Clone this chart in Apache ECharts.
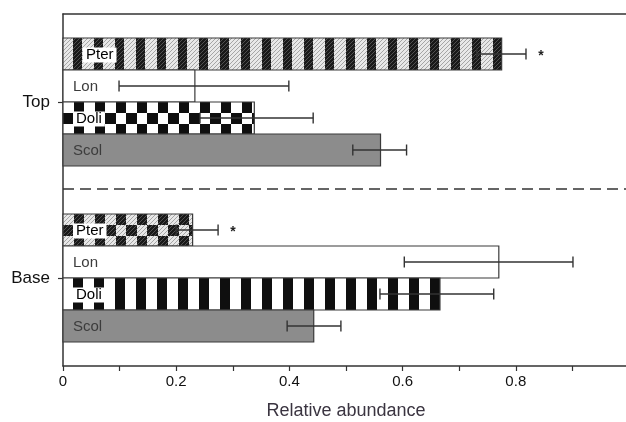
<!DOCTYPE html>
<html>
<head>
<meta charset="utf-8">
<script src="https://cdn.jsdelivr.net/npm/echarts@6/dist/echarts.min.js"></script>
<style>
  html, body { margin: 0; padding: 0; background: #fff; }
  #chart { width: 626px; height: 422px; }
</style>
</head>
<body>
<div id="chart"></div>
<script>
// species inside each group, listed from the top of the group down
var species = ['Pter', 'Lon', 'Doli', 'Scol'];
var groups = ['Top', 'Base'];
var topMean = [0.775, 0.233, 0.338, 0.561];
var topLow = [0.731, 0.099, 0.242, 0.512];
var topHigh = [0.818, 0.399, 0.442, 0.607];
var baseMean = [0.229, 0.770, 0.666, 0.443];
var baseLow = [0.200, 0.603, 0.560, 0.396];
var baseHigh = [0.274, 0.901, 0.761, 0.491];
var topSig = [true, false, false, false];
var baseSig = [true, false, false, false];
var xTickLabels = ['0', '0.2', '0.4', '0.6', '0.8'];

var FONT = '"Liberation Sans", Arial, sans-serif';

// row layout on the hidden value axis (one unit = one bar)
function rowY(g, i) {
  return (g === 0 ? 9.75 : 4.25) - i;
}

// ---- fill patterns ----
function tile(w, h, fn) {
  var c = document.createElement('canvas');
  c.width = w; c.height = h;
  var ctx = c.getContext('2d');
  var img = ctx.createImageData(w, h);
  for (var y = 0; y < h; y++) {
    for (var x = 0; x < w; x++) {
      var v = fn(x, y), k = (y * w + x) * 4;
      img.data[k] = img.data[k + 1] = img.data[k + 2] = v;
      img.data[k + 3] = 255;
    }
  }
  ctx.putImageData(img, 0, 0);
  return c;
}
function hatch(x, y, dark) {
  var line = (x + y) % 4 === 0;
  return dark ? (line ? 80 : 25) : (line ? 165 : 232);
}
function stripeDark(x) { var m = x % 21; return m >= 10 && m < 19; }
function checkDark(x, y) {
  var col = Math.floor(x / 10.5), row = Math.floor(y / (32 / 3));
  return (col + row) % 2 === 1;
}
var tiles = {
  hatchStripes: tile(84, 64, function (x, y) { return hatch(x, y, stripeDark(x)); }),
  checker: tile(84, 64, function (x, y) { return checkDark(x, y) ? 15 : 255; }),
  hatchChecker: tile(84, 64, function (x, y) { return hatch(x, y, checkDark(x, y)); }),
  stripes: tile(84, 64, function (x, y) { var m = x % 21; return (m >= 10 && m < 20) ? 15 : 255; })
};
var fillNames = [
  ['hatchStripes', '#fff', 'checker', '#8c8c8c'],
  ['hatchChecker', '#fff', 'stripes', '#8c8c8c']
];
function fillFor(g, i, x0, y0) {
  var f = fillNames[g][i];
  if (f.charAt(0) === '#') return f;
  return { image: tiles[f], repeat: 'repeat', x: x0, y: y0 };
}

// ---- data rows ----
var barData = [];
groups.forEach(function (name, g) {
  var mean = g === 0 ? topMean : baseMean;
  var low = g === 0 ? topLow : baseLow;
  var high = g === 0 ? topHigh : baseHigh;
  var sig = g === 0 ? topSig : baseSig;
  species.forEach(function (s, i) {
    barData.push([mean[i], rowY(g, i), low[i], high[i], g, i, sig[i] ? 1 : 0]);
  });
});

function renderBar(params, api) {
  var g = api.value(4), i = api.value(5), y = api.value(1);
  var p0 = api.coord([0, y]);
  var p1 = api.coord([api.value(0), y]);
  var h = api.size([0, 1])[1];
  var top = p0[1] - h / 2;
  var boxed = species[i] === 'Pter' || species[i] === 'Doli';
  return {
    type: 'group',
    children: [
      {
        type: 'rect',
        shape: { x: p0[0], y: top, width: p1[0] - p0[0], height: h },
        style: { fill: fillFor(g, i, p0[0], top), stroke: '#3a3a3a', lineWidth: 1.2 }
      },
      {
        type: 'text',
        x: p0[0] + (g === 0 && i === 0 ? 20 : 10),
        y: p0[1] + 1,
        style: {
          text: species[i],
          font: '15px ' + FONT,
          fill: boxed ? '#000' : '#3c3c3c',
          verticalAlign: 'middle',
          backgroundColor: boxed ? '#fff' : null,
          padding: boxed ? [0, 3, 0, 3] : 0
        }
      }
    ]
  };
}

function renderErr(params, api) {
  var y = api.value(1);
  var a = api.coord([api.value(2), y]);
  var b = api.coord([api.value(3), y]);
  var cap = 5.5;
  var st = { stroke: '#333', lineWidth: 1.4 };
  var kids = [
    { type: 'line', shape: { x1: a[0], y1: a[1], x2: b[0], y2: b[1] }, style: st },
    { type: 'line', shape: { x1: a[0], y1: a[1] - cap, x2: a[0], y2: a[1] + cap }, style: st },
    { type: 'line', shape: { x1: b[0], y1: b[1] - cap, x2: b[0], y2: b[1] + cap }, style: st }
  ];
  if (api.value(6)) {
    kids.push({
      type: 'text', x: b[0] + 15, y: b[1] + 2,
      style: { text: '*', font: 'bold 14px ' + FONT, fill: '#222', textAlign: 'center', verticalAlign: 'middle' }
    });
  }
  return { type: 'group', children: kids };
}

var chart = echarts.init(document.getElementById('chart'), null, { renderer: 'canvas' });
chart.setOption({
  animation: false,
  grid: { left: 63, width: 566, top: 14, bottom: 56, outerBoundsMode: 'none', containLabel: false },
  xAxis: [
    {
      type: 'value', position: 'bottom', min: 0, max: 1, interval: 0.1,
      axisLine: { show: true, lineStyle: { color: '#333', width: 1.5 } },
      axisTick: { show: true, length: 5, lineStyle: { color: '#333', width: 1.2 } },
      splitLine: { show: false },
      axisLabel: {
        color: '#111', fontSize: 15, fontFamily: FONT, margin: 8,
        formatter: function (v) {
          var k = Math.round(v * 10);
          return k % 2 === 0 ? (xTickLabels[k / 2] || '') : '';
        }
      },
      name: 'Relative abundance', nameLocation: 'middle', nameGap: 36,
      nameTextStyle: { color: '#3a3440', fontSize: 18, fontFamily: FONT }
    },
    {
      type: 'value', position: 'top', min: 0, max: 1,
      axisLine: { show: true, lineStyle: { color: '#333', width: 1.5 } },
      axisTick: { show: false }, axisLabel: { show: false }, splitLine: { show: false }
    }
  ],
  yAxis: [
    { type: 'value', min: 0, max: 11, show: false },
    {
      type: 'category', position: 'left', data: groups.slice().reverse(),
      axisLine: { show: true, lineStyle: { color: '#333', width: 1.5 } },
      axisTick: { show: true, alignWithLabel: true, length: 5, lineStyle: { color: '#333', width: 1.2 } },
      axisLabel: { color: '#111', fontSize: 17, fontFamily: FONT, margin: 13 },
      splitLine: { show: false }
    }
  ],
  series: [
    {
      type: 'custom', xAxisIndex: 0, yAxisIndex: 0,
      renderItem: renderBar, data: barData,
      encode: { x: 0, y: 1 }
    },
    {
      type: 'custom', xAxisIndex: 0, yAxisIndex: 0,
      renderItem: renderErr, data: barData,
      encode: { x: [2, 3], y: 1 },
      markLine: {
        silent: true, symbol: ['none', 'none'],
        label: { show: false },
        lineStyle: { type: [11, 6], color: '#333', width: 1.5 },
        data: [{ yAxis: 5.55 }]
      }
    }
  ]
});
</script>
</body>
</html>
